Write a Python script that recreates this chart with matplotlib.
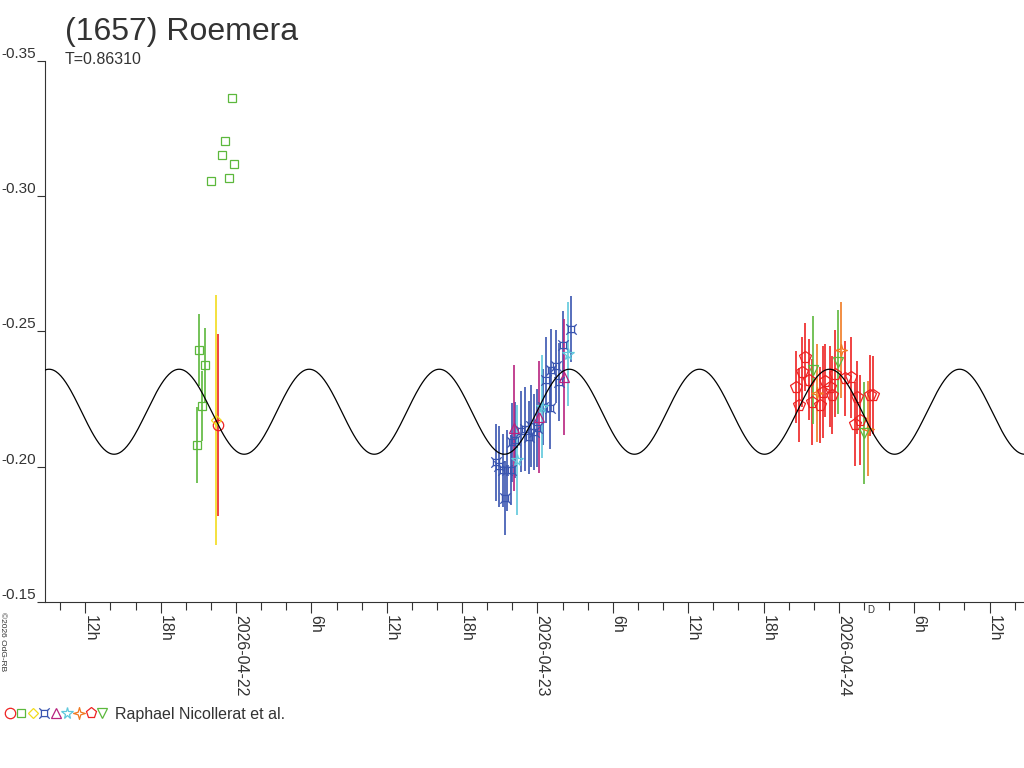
"""Lightcurve of (1657) Roemera: relative magnitudes from several sessions
with the two-maxima model curve for the period T (days) on top."""

import datetime as dt

import matplotlib

matplotlib.use("Agg")
import matplotlib.dates as mdates
import matplotlib.pyplot as plt
import numpy as np
from matplotlib.legend_handler import HandlerTuple
from matplotlib.lines import Line2D
from matplotlib.path import Path

plt.rcParams["font.family"] = ["Liberation Sans", "DejaVu Sans"]
plt.rcParams["axes.unicode_minus"] = False

TEXT = "#333333"
base_day = dt.datetime(2026, 4, 22)

# times in hours from 2026-04-22 00:00 UT, relative magnitudes and 1-sigma errors
circle_t = [-1.41]
circle_mag = [-0.2153]
circle_err = [0.0336]

square_t = [-3.11, -2.92, -2.73, -2.49, -2.01, -1.14, -0.90, -0.58, -0.32, -0.18]
square_mag = [-0.2080, -0.2432, -0.2225, -0.2374, -0.3056, -0.3153, -0.3204, -0.3067, -0.3363, -0.3119]
square_err = [0.0139, 0.0133, 0.0130, 0.0140, 0, 0, 0, 0, 0, 0]

diamond_t = [-1.62]
diamond_mag = [-0.2172]
diamond_err = [0.0462]

curr_t = [20.70, 20.94, 21.26, 21.42, 21.58, 21.89, 21.97, 22.21, 22.69, 23.01, 23.33,
          23.49, 23.73, 23.96, 24.44, 24.68, 25.00, 25.08, 25.48, 25.72, 26.04, 26.67]
curr_mag = [-0.2016, -0.2002, -0.1987, -0.1883, -0.1987, -0.1987, -0.2090, -0.2098, -0.2131, -0.2139, -0.2109,
            -0.2150, -0.2128, -0.2143, -0.2220, -0.2320, -0.2216, -0.2357, -0.2371, -0.2312, -0.2449, -0.2508]
curr_err = [0.0141, 0.0150, 0.0135, 0.0137, 0.0150, 0.0130, 0.0145, 0.0140, 0.0150, 0.0155, 0.0135,
            0.0150, 0.0140, 0.0145, 0.0140, 0.0160, 0.0150, 0.0150, 0.0135, 0.0145, 0.0125, 0.0122]

tri_t = [22.13, 24.12, 26.14]
tri_mag = [-0.2144, -0.2185, -0.2332]
tri_err = [0.0233, 0.0207, 0.0214]

star_t = [22.41, 24.40, 26.41]
star_mag = [-0.2026, -0.2222, -0.2418]
star_err = [0.0203, 0.0189, 0.0192]

star4_t = [46.23, 48.17, 50.29]
star4_mag = [-0.2273, -0.2430, -0.2141]
star4_err = [0.0180, 0.0177, 0.0174]

pent_t = [44.59, 44.85, 45.04, 45.30, 45.65, 45.84, 46.50, 46.71, 46.90, 47.29,
          47.43, 47.69, 48.49, 48.94, 49.28, 49.47, 49.68, 50.48, 50.74]
pent_mag = [-0.2295, -0.2227, -0.2350, -0.2406, -0.2322, -0.2239, -0.2227, -0.2276, -0.2317, -0.2295,
            -0.2264, -0.2344, -0.2326, -0.2330, -0.2157, -0.2256, -0.2172, -0.2264, -0.2264]
pent_err = [0.0133, 0.0136, 0.0130, 0.0125, 0.0150, 0.0160, 0.0140, 0.0170, 0.0135, 0.0150,
            0.0145, 0.0160, 0.0140, 0.0150, 0.0155, 0.0135, 0.0165, 0.0150, 0.0145]

dtri_t = [45.96, 47.96, 50.02]
dtri_mag = [-0.2357, -0.2387, -0.2125]
dtri_err = [0.0200, 0.0192, 0.0189]

# model: period in days, two maxima per rotation
period_days = 0.86310
model_mean = -0.2203
model_amp = 0.0157
model_peak_h = -4.53

x_range_h = (-15.21, 62.74)
major_hours = list(range(-12, 61, 6))
minor_hours = list(range(-14, 63, 2))
y_ticks = [-0.35, -0.30, -0.25, -0.20, -0.15]
y_tick_labels = ["-0.35", "-0.30", "-0.25", "-0.20", "-0.15"]


def _path(verts, codes):
	return Path(np.array(verts, dtype=float), codes)


M, L, C = Path.MOVETO, Path.LINETO, Path.CLOSEPOLY
currency_marker = _path(
	[(-0.5, -0.5), (0.5, -0.5), (0.5, 0.5), (-0.5, 0.5), (-0.5, -0.5),
	 (-0.5, -0.5), (-0.85, -0.85), (0.5, -0.5), (0.85, -0.85),
	 (0.5, 0.5), (0.85, 0.85), (-0.5, 0.5), (-0.85, 0.85)],
	[M, L, L, L, C, M, L, M, L, M, L, M, L],
)
star4_marker = _path(
	[(0, 1), (0.22, 0.22), (1, 0), (0.22, -0.22), (0, -1), (-0.22, -0.22), (-1, 0), (-0.22, 0.22), (0, 1)],
	[M, L, L, L, L, L, L, L, C],
)

# marker, colour, size in the plot, size in the legend row
series = [
	(circle_t, circle_mag, circle_err, "o", "#ee2222", 7.5, 7.5),
	(square_t, square_mag, square_err, "s", "#5cb83c", 5.5, 6.0),
	(diamond_t, diamond_mag, diamond_err, "D", "#f2dc1c", 5.0, 5.2),
	(curr_t, curr_mag, curr_err, currency_marker, "#3a55b0", 7.5, 7.5),
	(tri_t, tri_mag, tri_err, "^", "#b8237f", 7.0, 7.5),
	(star_t, star_mag, star_err, "*", "#5fc8dc", 8.5, 8.5),
	(star4_t, star4_mag, star4_err, star4_marker, "#f07a22", 8.5, 8.5),
	(pent_t, pent_mag, pent_err, "p", "#ee2222", 8.5, 8.0),
	(dtri_t, dtri_mag, dtri_err, "v", "#5cb83c", 7.0, 7.5),
]


def to_num(hours):
	return mdates.date2num(base_day) + np.asarray(hours, dtype=float) / 24.0


def hour_label(h):
	stamp = base_day + dt.timedelta(hours=h)
	return stamp.strftime("%Y-%m-%d") if stamp.hour == 0 else f"{stamp.hour}h"


fig = plt.figure(figsize=(10.24, 7.68), dpi=100)
ax = fig.add_axes([45 / 1024, 1 - 602 / 768, 1 - 45 / 1024, (602 - 60.7) / 768])

for t, mag, err, marker, color, size, _ in series:
	ax.errorbar(to_num(t), mag, yerr=err, fmt="none", ecolor=color, elinewidth=1.2, zorder=2)
	ax.plot(to_num(t), mag, linestyle="none", marker=marker, mfc="none", mec=color, ms=size, mew=0.9, zorder=3)

model_h = np.linspace(*x_range_h, 800)
model_mag = model_mean - model_amp * np.cos(2 * np.pi * (model_h - model_peak_h) / (period_days * 12.0))
ax.plot(to_num(model_h), model_mag, color="black", lw=0.9, zorder=4)

ax.set_xlim(*to_num(x_range_h))
ax.set_ylim(-0.15, -0.35)

ax.set_xticks(to_num(major_hours), [hour_label(h) for h in major_hours],
              rotation=-90, rotation_mode="anchor", ha="left", va="baseline")
ax.set_xticks(to_num(minor_hours), minor=True)
ax.set_yticks(y_ticks, y_tick_labels, va="bottom")

ax.tick_params(axis="x", which="major", length=8, width=0.8, pad=1.5, color=TEXT, labelcolor=TEXT, labelsize=11.5)
ax.tick_params(axis="x", which="minor", length=5.8, width=0.8, color=TEXT)
ax.tick_params(axis="y", length=6, width=0.8, pad=0.5, color=TEXT, labelcolor=TEXT, labelsize=11)
for side in ("top", "right"):
	ax.spines[side].set_visible(False)
for side in ("left", "bottom"):
	ax.spines[side].set_color(TEXT)
	ax.spines[side].set_linewidth(0.8)

# first quarter moon marker under the axis
ax.annotate("D", xy=(to_num(50.5), 0), xycoords=("data", "axes fraction"), xytext=(0, -2),
            textcoords="offset points", ha="center", va="top", fontsize=7, color=TEXT)

fig.text(65 / 1024, 1 - 40 / 768, "(1657) Roemera", fontsize=23, color=TEXT, va="baseline")
fig.text(65 / 1024, 1 - 64 / 768, f"T={period_days:.5f}", fontsize=11.5, color=TEXT, va="baseline")
fig.text(1 / 1024, 1 - 612 / 768, "©2026 OdG-RB", fontsize=6, color=TEXT, rotation=-90,
         rotation_mode="anchor", ha="left", va="baseline")

handles = tuple(
	Line2D([], [], linestyle="none", marker=marker, mfc="none", mec=color, ms=leg_size, mew=0.9)
	for _, _, _, marker, color, _, leg_size in series
)
fig.legend([handles], ["Raphael Nicollerat et al."], handler_map={tuple: HandlerTuple(ndivide=None, pad=0)},
           loc="center left", bbox_to_anchor=(4 / 1024, 1 - 714 / 768), frameon=False, fontsize=11.5,
           handlelength=6.5, handletextpad=0.45, borderpad=0, borderaxespad=0, numpoints=1, labelcolor=TEXT)

fig.savefig("out.png", dpi=100)
